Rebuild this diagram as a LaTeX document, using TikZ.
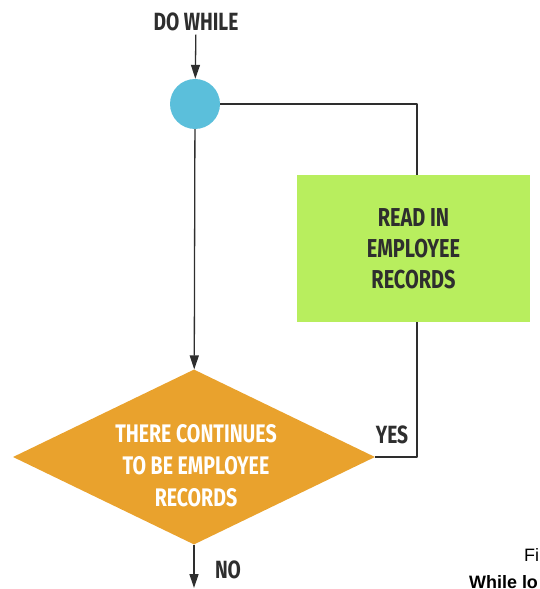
\documentclass[tikz,border=0pt]{standalone}
\usepackage{fontspec}
\setmainfont{Liberation Sans}
\newfontfamily\condfont[FakeStretch=0.77]{Fira Sans}
\usetikzlibrary{shapes.geometric,arrows.meta}

\definecolor{loopblue}{HTML}{5BBFDB}
\definecolor{readgreen}{HTML}{B8EE5E}
\definecolor{testorange}{HTML}{E9A22D}
\definecolor{inkgray}{HTML}{2E2E2E}

\begin{document}
\begin{tikzpicture}[
    x={(1bp,0bp)},
    y={(0bp,-1bp)},
    line join=round,
    flow/.style={draw=inkgray, line width=1.3bp},
    tip/.style={-{Triangle[length=14bp,width=9bp]}},
    lbl/.style={font=\condfont\bfseries\fontsize{25}{28}\selectfont, text=inkgray, align=center}
]
    \useasboundingbox (0,0) rectangle (540,589);

    % 开始
    \node[lbl] (dowhile) at (196,22) {DO WHILE};
    \node[circle, fill=loopblue, minimum size=50bp, inner sep=0pt] (loop) at (195,104) {};

    % 循环体
    \node[fill=readgreen, minimum width=233bp, minimum height=147bp, lbl,
          font=\condfont\bfseries\fontsize{26}{31}\selectfont] (body) at (413.5,248.5)
          {READ IN\\EMPLOYEE\\RECORDS};

    % 判断
    \node[diamond, fill=testorange, minimum width=362bp, minimum height=175bp,
          inner sep=0pt, aspect=2.07] (test) at (194,457) {};
    \node[lbl, text=white, font=\condfont\bfseries\fontsize{25.5}{32}\selectfont]
          (testtext) at (196,466) {THERE CONTINUES\\TO BE EMPLOYEE\\RECORDS};

    % 回路
    \coordinate (rail) at (417,0);
    \coordinate (out) at (194,588);

    % 连接
    \draw[flow, tip] (dowhile) -- (loop);
    \draw[flow, tip] (loop) -- (test);
    \draw[flow] (loop) -- (loop -| rail) -- (rail |- body.north);
    \draw[flow] (rail |- body.south) -- (rail |- test.east) -- (test.east);
    \draw[flow, tip] (test) -- (out);

    % 标注
    \node[lbl] (yes) at (392,435) {YES};
    \node[lbl] (no) at (228,570) {NO};

    % 图题
    \node[anchor=base west, inner sep=0pt, font=\fontsize{18}{22}\selectfont] (figno) at (524,561) {Fi};
    \node[anchor=base west, inner sep=0pt, font=\bfseries\fontsize{18}{22}\selectfont] (figname) at (469,588) {While lo};
\end{tikzpicture}
\end{document}
